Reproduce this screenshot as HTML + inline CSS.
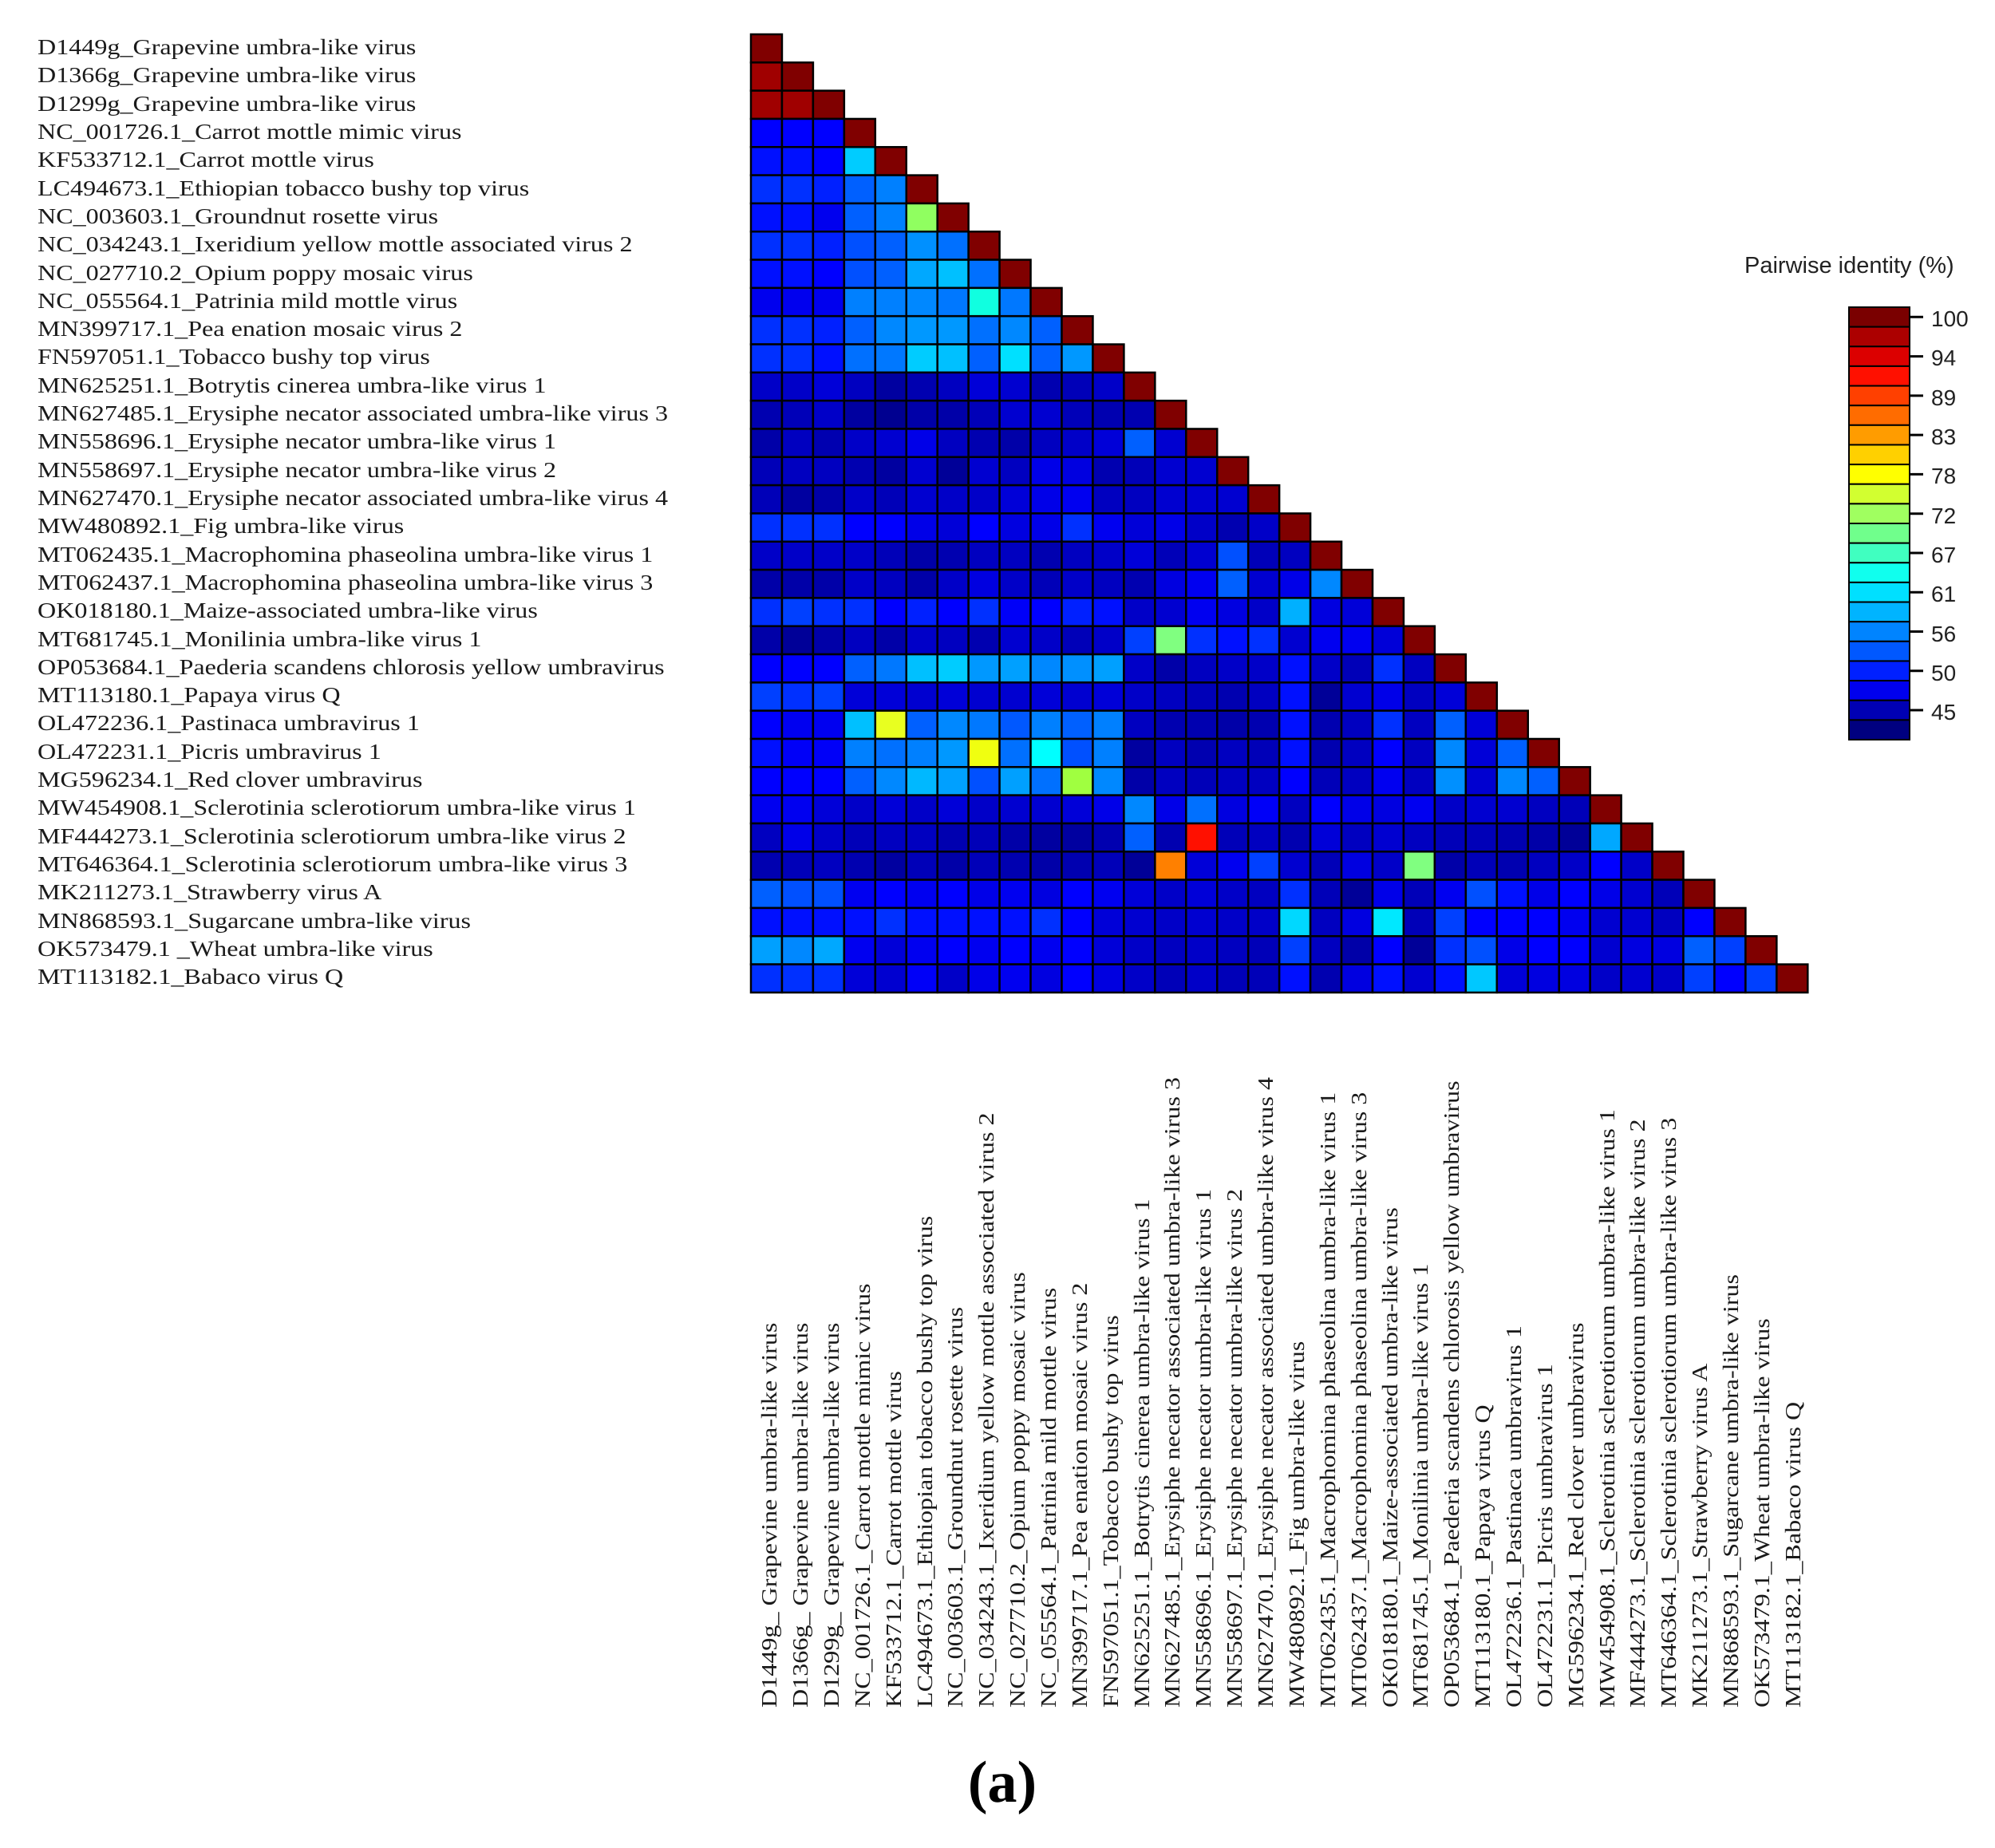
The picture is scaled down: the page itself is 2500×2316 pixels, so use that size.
<!DOCTYPE html>
<html><head><meta charset="utf-8">
<style>
html,body{margin:0;padding:0;background:#fff;}
svg{display:block;}
.lb{font-family:"Liberation Serif",serif;font-size:27px;fill:#1a1a1a;}
.sn{font-family:"Liberation Sans",sans-serif;fill:#222;}
</style></head>
<body>
<svg id="s" width="2500" height="2316" viewBox="0 0 2500 2316" xmlns="http://www.w3.org/2000/svg">
<rect width="2500" height="2316" fill="#fff"/>
<g id="cells"></g>
<g class="lb" id="left">
<text transform="translate(47,68) scale(1.19,1)">D1449g_Grapevine umbra-like virus</text>
<text transform="translate(47,103) scale(1.19,1)">D1366g_Grapevine umbra-like virus</text>
<text transform="translate(47,139) scale(1.19,1)">D1299g_Grapevine umbra-like virus</text>
<text transform="translate(47,174) scale(1.19,1)">NC_001726.1_Carrot mottle mimic virus</text>
<text transform="translate(47,209) scale(1.19,1)">KF533712.1_Carrot mottle virus</text>
<text transform="translate(47,245) scale(1.19,1)">LC494673.1_Ethiopian tobacco bushy top virus</text>
<text transform="translate(47,280) scale(1.19,1)">NC_003603.1_Groundnut rosette virus</text>
<text transform="translate(47,315) scale(1.19,1)">NC_034243.1_Ixeridium yellow  mottle associated virus 2</text>
<text transform="translate(47,351) scale(1.19,1)">NC_027710.2_Opium poppy mosaic virus</text>
<text transform="translate(47,386) scale(1.19,1)">NC_055564.1_Patrinia mild  mottle virus</text>
<text transform="translate(47,421) scale(1.19,1)">MN399717.1_Pea enation mosaic virus 2</text>
<text transform="translate(47,456) scale(1.19,1)">FN597051.1_Tobacco bushy top virus</text>
<text transform="translate(47,492) scale(1.19,1)">MN625251.1_Botrytis cinerea umbra-like virus 1</text>
<text transform="translate(47,527) scale(1.19,1)">MN627485.1_Erysiphe necator associated umbra-like virus  3</text>
<text transform="translate(47,562) scale(1.19,1)">MN558696.1_Erysiphe necator umbra-like virus 1</text>
<text transform="translate(47,598) scale(1.19,1)">MN558697.1_Erysiphe necator umbra-like virus 2</text>
<text transform="translate(47,633) scale(1.19,1)">MN627470.1_Erysiphe necator associated umbra-like virus 4</text>
<text transform="translate(47,668) scale(1.19,1)">MW480892.1_Fig umbra-like virus</text>
<text transform="translate(47,704) scale(1.19,1)">MT062435.1_Macrophomina phaseolina umbra-like virus 1</text>
<text transform="translate(47,739) scale(1.19,1)">MT062437.1_Macrophomina phaseolina umbra-like virus 3</text>
<text transform="translate(47,774) scale(1.19,1)">OK018180.1_Maize-associated umbra-like virus</text>
<text transform="translate(47,810) scale(1.19,1)">MT681745.1_Monilinia umbra-like virus 1</text>
<text transform="translate(47,845) scale(1.19,1)">OP053684.1_Paederia scandens chlorosis yellow  umbravirus</text>
<text transform="translate(47,880) scale(1.19,1)">MT113180.1_Papaya virus Q</text>
<text transform="translate(47,915) scale(1.19,1)">OL472236.1_Pastinaca umbravirus 1</text>
<text transform="translate(47,951) scale(1.19,1)">OL472231.1_Picris umbravirus 1</text>
<text transform="translate(47,986) scale(1.19,1)">MG596234.1_Red clover umbravirus</text>
<text transform="translate(47,1021) scale(1.19,1)">MW454908.1_Sclerotinia sclerotiorum umbra-like virus 1</text>
<text transform="translate(47,1057) scale(1.19,1)">MF444273.1_Sclerotinia sclerotiorum umbra-like virus 2</text>
<text transform="translate(47,1092) scale(1.19,1)">MT646364.1_Sclerotinia sclerotiorum umbra-like virus 3</text>
<text transform="translate(47,1127) scale(1.19,1)">MK211273.1_Strawberry virus A</text>
<text transform="translate(47,1163) scale(1.19,1)">MN868593.1_Sugarcane umbra-like virus</text>
<text transform="translate(47,1198) scale(1.19,1)">OK573479.1 _Wheat umbra-like virus</text>
<text transform="translate(47,1233) scale(1.19,1)">MT113182.1_Babaco virus Q</text>
</g>
<g class="lb" id="bottom">
<text transform="translate(973,2140) rotate(-90) scale(1.19,1)">D1449g_ Grapevine umbra-like virus</text>
<text transform="translate(1012,2140) rotate(-90) scale(1.19,1)">D1366g_ Grapevine umbra-like virus</text>
<text transform="translate(1051,2140) rotate(-90) scale(1.19,1)">D1299g_ Grapevine umbra-like virus</text>
<text transform="translate(1090,2140) rotate(-90) scale(1.19,1)">NC_001726.1_Carrot mottle mimic virus</text>
<text transform="translate(1129,2140) rotate(-90) scale(1.19,1)">KF533712.1_Carrot mottle virus</text>
<text transform="translate(1168,2140) rotate(-90) scale(1.19,1)">LC494673.1_Ethiopian tobacco bushy top virus</text>
<text transform="translate(1206,2140) rotate(-90) scale(1.19,1)">NC_003603.1_Groundnut rosette virus</text>
<text transform="translate(1245,2140) rotate(-90) scale(1.19,1)">NC_034243.1_Ixeridium yellow  mottle associated virus 2</text>
<text transform="translate(1284,2140) rotate(-90) scale(1.19,1)">NC_027710.2_Opium poppy mosaic virus</text>
<text transform="translate(1323,2140) rotate(-90) scale(1.19,1)">NC_055564.1_Patrinia mild  mottle virus</text>
<text transform="translate(1362,2140) rotate(-90) scale(1.19,1)">MN399717.1_Pea enation mosaic virus 2</text>
<text transform="translate(1401,2140) rotate(-90) scale(1.19,1)">FN597051.1_Tobacco bushy top virus</text>
<text transform="translate(1440,2140) rotate(-90) scale(1.19,1)">MN625251.1_Botrytis cinerea umbra-like virus 1</text>
<text transform="translate(1478,2140) rotate(-90) scale(1.19,1)">MN627485.1_Erysiphe necator associated umbra-like virus  3</text>
<text transform="translate(1517,2140) rotate(-90) scale(1.19,1)">MN558696.1_Erysiphe necator umbra-like virus 1</text>
<text transform="translate(1556,2140) rotate(-90) scale(1.19,1)">MN558697.1_Erysiphe necator umbra-like virus 2</text>
<text transform="translate(1595,2140) rotate(-90) scale(1.19,1)">MN627470.1_Erysiphe necator associated umbra-like virus 4</text>
<text transform="translate(1634,2140) rotate(-90) scale(1.19,1)">MW480892.1_Fig umbra-like virus</text>
<text transform="translate(1673,2140) rotate(-90) scale(1.19,1)">MT062435.1_Macrophomina phaseolina umbra-like virus 1</text>
<text transform="translate(1712,2140) rotate(-90) scale(1.19,1)">MT062437.1_Macrophomina phaseolina umbra-like virus 3</text>
<text transform="translate(1751,2140) rotate(-90) scale(1.19,1)">OK018180.1_Maize-associated umbra-like virus</text>
<text transform="translate(1789,2140) rotate(-90) scale(1.19,1)">MT681745.1_Monilinia umbra-like virus 1</text>
<text transform="translate(1828,2140) rotate(-90) scale(1.19,1)">OP053684.1_Paederia scandens chlorosis yellow  umbravirus</text>
<text transform="translate(1867,2140) rotate(-90) scale(1.19,1)">MT113180.1_Papaya virus Q</text>
<text transform="translate(1906,2140) rotate(-90) scale(1.19,1)">OL472236.1_Pastinaca umbravirus 1</text>
<text transform="translate(1945,2140) rotate(-90) scale(1.19,1)">OL472231.1_Picris umbravirus 1</text>
<text transform="translate(1984,2140) rotate(-90) scale(1.19,1)">MG596234.1_Red clover umbravirus</text>
<text transform="translate(2023,2140) rotate(-90) scale(1.19,1)">MW454908.1_Sclerotinia sclerotiorum umbra-like virus 1</text>
<text transform="translate(2061,2140) rotate(-90) scale(1.19,1)">MF444273.1_Sclerotinia sclerotiorum umbra-like virus 2</text>
<text transform="translate(2100,2140) rotate(-90) scale(1.19,1)">MT646364.1_Sclerotinia sclerotiorum umbra-like virus 3</text>
<text transform="translate(2139,2140) rotate(-90) scale(1.19,1)">MK211273.1_Strawberry virus A</text>
<text transform="translate(2178,2140) rotate(-90) scale(1.19,1)">MN868593.1_Sugarcane umbra-like virus</text>
<text transform="translate(2217,2140) rotate(-90) scale(1.19,1)">OK573479.1_Wheat umbra-like virus</text>
<text transform="translate(2256,2140) rotate(-90) scale(1.19,1)">MT113182.1_Babaco virus Q</text>
</g>
<text x="1256" y="2258" text-anchor="middle" font-family="Liberation Serif,serif" font-size="74" font-weight="bold" fill="#000">(a)</text>
<!-- legend -->
<text class="sn" x="2186" y="342" font-size="29">Pairwise identity (%)</text>
<g id="bar" stroke="#000" stroke-width="2"></g>
<g id="ticks" stroke="#000" stroke-width="3"></g>
<g class="sn" font-size="28" id="tl">
<text x="2420" y="409">100</text><text x="2420" y="458">94</text><text x="2420" y="508">89</text>
<text x="2420" y="557">83</text><text x="2420" y="606">78</text><text x="2420" y="656">72</text>
<text x="2420" y="705">67</text><text x="2420" y="754">61</text><text x="2420" y="804">56</text>
<text x="2420" y="853">50</text><text x="2420" y="902">45</text>
</g>
</svg>
<script>
(function(){
var rows=[
"R","Q R","Q Q R",
"nff nff nff R",
"g10 g10 nff gcc R",
"g30 g30 g20 g60 g80 R",
"g10 g10 nee g60 g80 #90ff60 R",
"g30 g30 g20 g50 g60 g90 g70 R",
"g10 g10 nff g50 g60 ga8 gc0 g70 R",
"nee nee nee g80 g80 g88 g78 #10ffe0 g78 R",
"g30 g30 g20 g60 g88 g98 g98 g70 g88 g60 R",
"g30 g30 g10 g70 g78 gcc gc0 g60 ge0 g60 g98 R",
"nc8 nc8 nd8 nc0 na0 nb0 nc0 nd8 nd0 nb0 nb8 nc8 R",
"nb0 nb8 nc8 na0 n90 na8 na8 nb8 nd0 nd0 nb8 nb0 nb0 R",
"na8 nc0 nb0 nc8 nd0 ne8 nc0 nb0 na8 nc0 nc8 nd8 g60 nd0 R",
"nb8 nc0 nc0 nb0 na0 nd0 n98 nd0 nc0 ne8 ne0 nb0 nb8 nd0 nd0 R",
"nb8 na0 na8 nc8 nb8 nd0 nc8 nc8 nd8 ne8 nf0 nc0 nc0 nd0 nd0 nd0 R",
"g30 g30 g30 nff nff ne8 nd8 nff ne0 ne8 g30 nf0 nd8 ne8 nc8 nb0 nc8 R",
"nc8 nc8 nc8 nc8 nb8 na8 nb0 nc0 nc0 nb0 nc0 nc8 nd8 nb8 nd0 g50 nb8 nc0 R",
"na8 na8 na8 nc8 nc0 na8 nc8 ne0 nc8 nb8 nc8 nc0 nb0 ne0 nf0 g60 nd0 ne8 g88 R",
"g30 g40 g30 g30 nff g20 nff g30 nf8 nff g20 g10 nc8 nd0 nf0 ne0 nc8 gb0 ne0 nd8 R",
"na8 n98 na8 nc0 na8 nc8 nc0 nb0 nd0 nc8 nb8 nc8 g40 #80ff80 g30 g10 g30 nd0 nf0 nf0 nd8 R",
"nff nff nff g60 g78 gc0 gcc g98 ga0 g88 g90 ga0 nc8 na8 nc0 nc8 nc8 g10 nc8 nb8 g30 nc0 R",
"g40 g30 g40 nd8 nd8 nd0 nd8 nd0 nd0 nd8 nd0 nd8 nc8 nc0 nb8 nb0 nc0 g10 n98 nd0 ne8 nc0 nd8 R",
"nff nf0 nf0 gc0 #e8ff20 g60 g88 g78 g58 g80 g60 g80 nc0 nb0 nb0 na8 nb0 g10 nb0 nc0 g30 nc0 g60 nd8 R",
"g10 nf8 nf8 g80 g70 g80 g98 #f0ff10 g70 #00ffff g50 g80 na0 nc0 nb0 nc0 nb8 g10 nb0 nc0 nff nc0 g88 nd8 g60 R",
"nff nff nff g60 g88 gb8 ga0 g50 ga0 g70 #a0ff40 g88 na8 nc0 nb8 nc0 nc0 nff nb8 nc0 nf0 nc0 g90 nd0 g88 g60 R",
"nf0 nf0 nd8 nc8 nd8 nc8 nd8 nc8 nd0 nd0 nd8 ne8 g88 ne8 g70 ne0 nf8 nc0 nff ne8 ne0 nf0 nc8 nd0 nd0 nc0 nb8 R",
"nc0 ne8 nc8 nb8 nc0 nc0 nb0 nb8 na8 na0 na0 nb0 g60 nb0 #ff1000 nb8 nc0 nb0 nd8 nc0 nd0 nc0 nb8 nb8 nb0 na8 n98 ga8 R",
"nb0 nb8 nc0 nb0 na0 nb8 na8 nb8 nb0 na8 nb0 nb8 n98 #ff8000 nd8 nf0 g40 nd0 nb8 ne0 nc8 #80ff80 na8 nb8 nb0 nc0 nc8 nff nc8 R",
"g60 g50 g50 nf0 nff nf0 nff ne8 nf0 ne0 nff nf0 nd8 nc8 nd8 nc8 nc0 g30 nb8 n98 ne8 nb8 nf0 g50 g10 ne8 nff ne8 nd0 nb8 R",
"g10 g10 g10 g10 g30 g10 g10 g10 g10 g30 nff nd8 nd0 nc8 nd0 nc8 nc8 gd8 nc0 ne0 ge8 nb8 g40 nff nff nff nf0 nd0 nd0 nc0 nff R",
"ga0 g88 ga8 nf0 nd8 nf0 nff nf0 nff nf0 nff nd8 nc8 nc0 nc8 nc0 nb8 g40 nc0 na8 nff n98 g30 g50 ne8 nff nff nd0 ne0 ne0 g60 g40 R",
"g30 g30 g30 nd8 nd0 nf8 nc8 ne8 nf0 ne0 nff ne0 nc8 nb8 nc8 nb8 nb8 g10 nb0 ne0 g10 nd0 g10 gc8 nd8 ne0 ne0 nc8 nd0 nc8 g40 nff g40 R"
];
function col(t){
 if(t=="R")return"#800000"; if(t=="Q")return"#a00000";
 if(t[0]=="n")return"#0000"+t.slice(1);
 if(t[0]=="g")return"#00"+t.slice(1)+"ff";
 return t;
}
var g=document.getElementById("cells");
var x0=941,y0=43,w=38.95,h=35.32,html="";
for(var r=0;r<rows.length;r++){
 var ts=rows[r].split(" ");
 for(var c=0;c<ts.length;c++){
  html+='<rect x="'+(x0+c*w).toFixed(2)+'" y="'+(y0+r*h).toFixed(2)+'" width="'+w+'" height="'+h+'" fill="'+col(ts[c])+'" stroke="#000" stroke-width="2.5"/>';
 }
}
g.innerHTML=html;
var bc=["#7a0000","#ac0000","#dc0000","#ff1000","#ff4000","#ff6c00","#ff9c00","#ffd000","#ffff00","#d2ff30","#a0ff60","#70ff8c","#40ffc0","#10ffee","#00e0ff","#00b4ff","#0084ff","#0058ff","#0020ff","#0000ee","#0000b4","#000080"];
var top=385,bh=(927-385)/22,b="",tk="";
for(var i=0;i<22;i++){b+='<rect x="2317" y="'+(top+i*bh).toFixed(2)+'" width="76" height="'+bh.toFixed(2)+'" fill="'+bc[i]+'"/>';}
for(var j=0;j<11;j++){var y=(top+bh*(2*j+0.5)).toFixed(1);tk+='<line x1="2393" y1="'+y+'" x2="2410" y2="'+y+'"/>';}
document.getElementById("bar").innerHTML=b;
document.getElementById("ticks").innerHTML=tk;
})();
</script>
</body></html>
